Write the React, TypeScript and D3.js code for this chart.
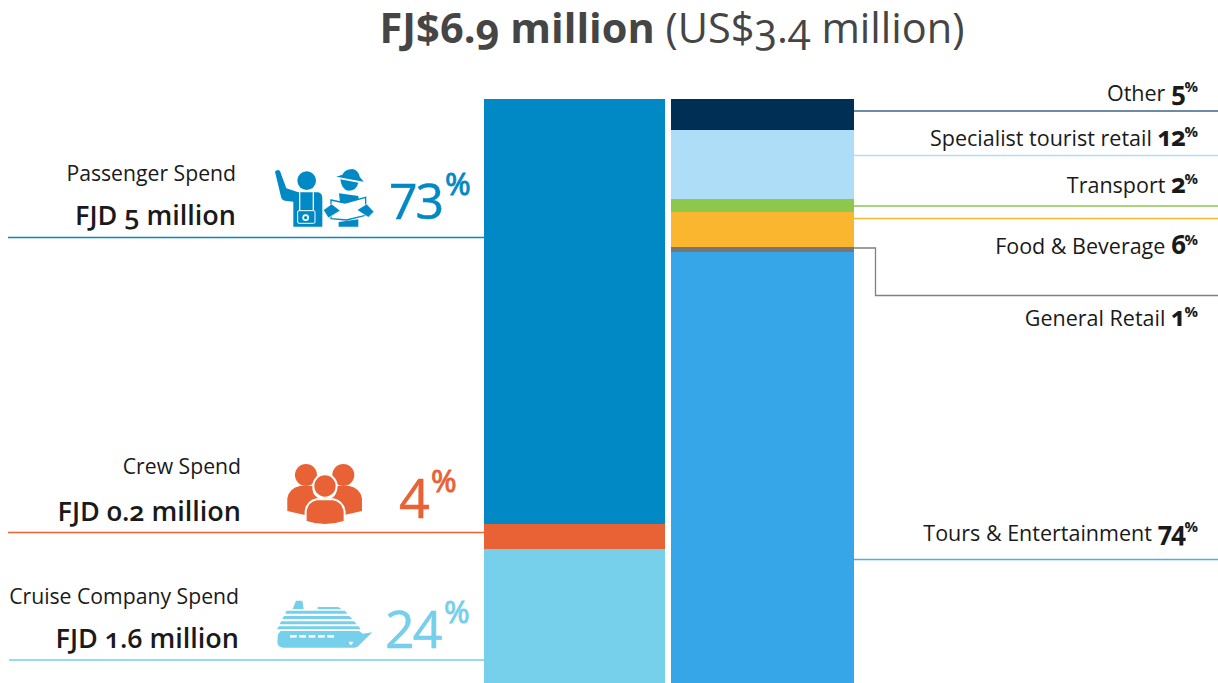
import React from 'react';
import * as d3 from 'd3';

// left column: who spends
const spendCategories = ['Passenger Spend', 'Crew Spend', 'Cruise Company Spend'];
const spendAmounts = ['FJD 5 million', 'FJD 0.2 million', 'FJD 1.6 million'];
const spendLabels = ['73', '4', '24'];
const spendShares = [72.8, 4.3, 22.9]; // bar heights as seen in the picture

// right column: what passengers spend on, top to bottom
const itemCategories = ['Other', 'Specialist tourist retail', 'Transport', 'Food & Beverage', 'General Retail', 'Tours & Entertainment'];
const itemLabels = ['5', '12', '2', '6', '1', '74'];
const itemShares = [5.3, 11.8, 2.2, 6.0, 0.9, 73.8];

const spendColors = ['#0089C4', '#E86236', '#76CFEB'];
const itemColors = ['#002F56', '#AEDDF8', '#8DC74B', '#FBB630', '#767676', '#36A6E9'];
const itemLineColors = ['#3F6585', '#AEDDF8', '#8DC74B', '#FBB630', '#808080', '#4FAEE6'];

const FONT = '"Open Sans", sans-serif';
const INK = '#1a1a1a';

const width = 1218;
const height = 683;
const y = d3.scaleLinear().domain([0, 100]).rangeRound([99, 683]);

const leftBar = { x: 484, w: 181 };
const rightBar = { x: 671, w: 183 };

// label layout, one entry per category
const spendLayout = [
  { line: 237.5, right: 236, nameY: 181, amountY: 225, pctX: 389, pctY: 219, supX: 445, supY: 195, size: 50, lineLeft: 8 },
  { line: 532.5, right: 241, nameY: 474, amountY: 521, pctX: 399, pctY: 518, supX: 431, supY: 492, size: 54, lineLeft: 8 },
  { line: 660, right: 239, nameY: 604, amountY: 648, pctX: 385, pctY: 648, supX: 444, supY: 623, size: 52, lineLeft: 9 },
];
const itemLayout = [
  { line: 111, textY: 101 },
  { line: 155.5, textY: 146 },
  { line: 206, textY: 193 },
  { line: 218.5, textY: 254 },
  { line: 295.5, textY: 326 },
  { line: 559.5, textY: 541 },
];

function stack(values: number[]) {
  let acc = 0;
  return values.map(v => {
    const seg = { y0: acc, y1: acc + v };
    acc += v;
    return seg;
  });
}

function TouristIcons({ color }: { color: string }) {
  return (
    <g fill={color} transform="translate(265,160) scale(0.3333)">
      {/* person with camera */}
      <path d="M30,35 Q37,26 45,33 L64,85 L100,97 L160,97 Q172,100 172,115 L172,200 L85,200 L85,125 L60,122 Q50,120 48,110 Z" />
      <circle cx="125" cy="62" r="28" />
      <path d="M104,97V152M145,97V152" stroke="#fff" strokeWidth="4" fill="none" />
      <rect x="98" y="152" width="52" height="38" rx="4" stroke="#fff" strokeWidth="3" />
      <circle cx="122" cy="173" r="10" fill="#fff" />
      <circle cx="122" cy="173" r="5" />
      {/* person with map */}
      <path d="M214,50 L232,44 Q240,28 262,27 Q280,30 284,50 L296,65 Z" />
      <path d="M226,58 L280,68 Q275,92 250,92 Q230,90 226,58 Z" />
      <path d="M222,100 L280,108 L282,128 L225,128 Z" />
      <path d="M198,120 L240,129 L302,112 L302,166 L245,180 L198,176 Z" fill="#fff" stroke={color} strokeWidth="4" />
      <path d="M175,150 L200,132 L226,152 L190,174 Z" stroke="#fff" strokeWidth="2" />
      <path d="M276,150 L305,132 L327,155 L310,172 Z" stroke="#fff" strokeWidth="2" />
      <path d="M221,186 L280,178 L280,200 L221,200 Z" />
    </g>
  );
}

function CrewIcons({ color }: { color: string }) {
  return (
    <g transform="translate(0,450) scale(0.3333)">
      <g fill={color}>
        <circle cx="918" cy="75" r="33" />
        <circle cx="1030" cy="75" r="33" />
        <path d="M862,183 L862,145 Q868,114 900,108 L940,108 Q930,135 965,150 L930,165 L915,195 Z" />
        <path d="M1086,183 L1086,145 Q1080,114 1048,108 L1008,108 Q1018,135 985,150 L1018,165 L1033,195 Z" />
      </g>
      <g fill={color} stroke="#fff" strokeWidth="6">
        <circle cx="975" cy="108" r="35" />
        <path d="M917,215 L917,185 Q920,155 950,148 L1000,148 Q1030,155 1034,185 L1034,215 Q975,235 917,215 Z" />
      </g>
    </g>
  );
}

function ShipIcon({ color }: { color: string }) {
  const decks = ['M50,47H225L232,56H45Z', 'M42,63H238L247,72H37Z', 'M34,79H252L260,88H28Z', 'M26,94H266L272,103H21Z'];
  return (
    <g transform="translate(270,595) scale(0.3333)">
      <g fill={color}>
        <path d="M78,17 L97,17 L101,42 L68,42 Z" />
        <path d="M143,36 L205,36 L215,43 L143,43 Z" />
        {decks.map(d => <path key={d} d={d} />)}
        <path d="M32,108 L268,108 L278,116 L307,112 L262,156 Q258,158 250,158 L40,158 Q22,156 22,140 L24,118 Z" />
      </g>
      <g fill="#fff">
        {[60, 88, 116, 144, 172].map(wx => <rect key={wx} x={wx} y={120} width={20} height={8} />)}
        <path d="M236,140 L250,140 L245,149 L240,149 Z" />
      </g>
    </g>
  );
}

export default function App() {
  const spendStack = stack(spendShares);
  const itemStack = stack(itemShares);
  return (
    <svg
      width={width}
      height={height}
      style={{ position: 'absolute', left: 0, top: 0, display: 'block', fontFamily: FONT, fontVariantNumeric: 'oldstyle-nums' }}
    >
      <text x={672} y={43} textAnchor="middle" fontSize={41.5} fill="#454545">
        <tspan fontWeight={700}>FJ$6.9 million</tspan> (US$3.4 million)
      </text>

      {spendStack.map((s, i) => (
        <rect key={spendCategories[i]} x={leftBar.x} width={leftBar.w} y={y(s.y0)} height={y(s.y1) - y(s.y0)} fill={spendColors[i]} />
      ))}
      {itemStack.map((s, i) => (
        <rect key={itemCategories[i]} x={rightBar.x} width={rightBar.w} y={y(s.y0)} height={y(s.y1) - y(s.y0)} fill={itemColors[i]} />
      ))}

      {spendCategories.map((name, i) => {
        const l = spendLayout[i];
        return (
          <g key={name}>
            <line x1={l.lineLeft} x2={leftBar.x} y1={l.line} y2={l.line} stroke={spendColors[i]} strokeWidth={1.3} />
            <text x={l.right} y={l.nameY} textAnchor="end" fontSize={21.2} fill={INK}>{name}</text>
            <text x={l.right} y={l.amountY} textAnchor="end" fontSize={27} fontWeight={600} fill={INK}>{spendAmounts[i]}</text>
            <text x={l.pctX} y={l.pctY} fontSize={l.size} fill={spendColors[i]} stroke={spendColors[i]} strokeWidth={0.5} style={{ fontVariantNumeric: 'lining-nums' }} letterSpacing={-2}>
              {spendLabels[i]}
              <tspan x={l.supX} y={l.supY} fontSize={31} letterSpacing={0} strokeWidth={0.9}>%</tspan>
            </text>
          </g>
        );
      })}
      <TouristIcons color={spendColors[0]} />
      <CrewIcons color={spendColors[1]} />
      <ShipIcon color={spendColors[2]} />

      {itemCategories.map((name, i) => {
        const l = itemLayout[i];
        const x0 = rightBar.x + rightBar.w;
        // General Retail is too thin for a label of its own, so its leader bends down
        const d = name === 'General Retail'
          ? `M${x0},${y(itemStack[i].y0) + 1}H875.5V${l.line}H${width}`
          : `M${x0},${l.line}H${width}`;
        return (
          <g key={name}>
            <path d={d} fill="none" stroke={itemLineColors[i]} strokeWidth={1.3} />
            <text x={1198} y={l.textY} textAnchor="end" fontSize={21.5} fill={INK}>
              {name} <tspan fontSize={26} fontWeight={700} letterSpacing={-1.5}>{itemLabels[i]}</tspan>
              <tspan fontSize={15} fontWeight={700} dy={-9}>%</tspan>
            </text>
          </g>
        );
      })}
    </svg>
  );
}
